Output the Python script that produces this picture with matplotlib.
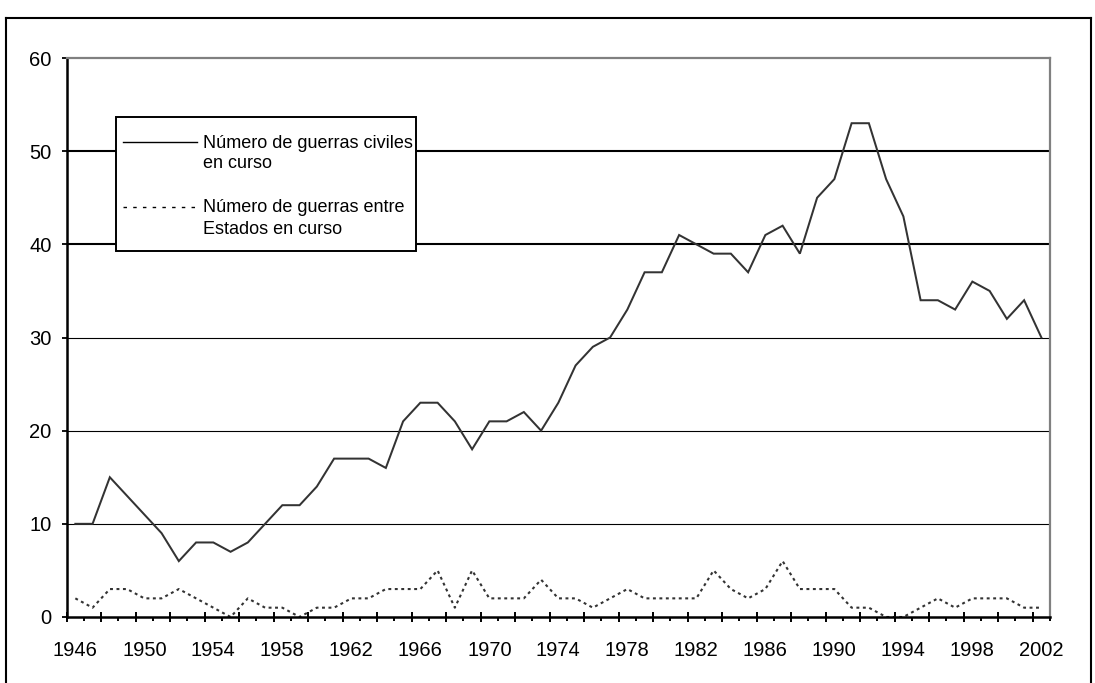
import matplotlib
matplotlib.use("Agg")
import matplotlib.pyplot as plt
from matplotlib.lines import Line2D
from matplotlib.patches import Rectangle
import numpy as np

years = list(range(1946, 2003))
civil_wars = [10, 10, 15, 13, 11, 9, 6, 8, 8, 7,
              8, 10, 12, 12, 14, 17, 17, 17, 16, 21,
              23, 23, 21, 18, 21, 21, 22, 20, 23, 27,
              29, 30, 33, 37, 37, 41, 40, 39, 39, 37,
              41, 42, 39, 45, 47, 53, 53, 47, 43, 34,
              34, 33, 36, 35, 32, 34, 30]
interstate_wars = [2, 1, 3, 3, 2, 2, 3, 2, 1, 0,
                   2, 1, 1, 0, 1, 1, 2, 2, 3, 3,
                   3, 5, 1, 5, 2, 2, 2, 4, 2, 2,
                   1, 2, 3, 2, 2, 2, 2, 5, 3, 2,
                   3, 6, 3, 3, 3, 1, 1, 0, 0, 1,
                   2, 1, 2, 2, 2, 1, 1]
y_ticks = [0, 10, 20, 30, 40, 50, 60]
label_civil = ["Número de guerras civiles", "en curso"]
label_inter = ["Número de guerras entre", "Estados en curso"]

W, H = 1095, 683
fig = plt.figure(figsize=(W / 100, H / 100), dpi=100)
plt.rcParams['font.family'] = ['Liberation Sans', 'DejaVu Sans']

def fx(px):
    return px / W

def fy(py):
    return 1 - py / H

ax_l, ax_r, ax_t, ax_b = 66.7, 1050, 58, 617
ax = fig.add_axes([fx(ax_l), fy(ax_b), fx(ax_r - ax_l), (ax_b - ax_t) / H])

x = np.arange(len(years))
ax.plot(x, civil_wars, color='#333333', lw=1.45, solid_joinstyle='miter', zorder=3)
ax.plot(x, interstate_wars, color='#333333', lw=1.5, linestyle=(0, (1.4, 1.7)), zorder=3)

ax.set_xlim(-0.5, len(years) - 0.5)
ax.set_ylim(0, 60)

# y axis
ax.set_yticks(y_ticks)
ax.set_yticklabels([str(v) for v in y_ticks])
ax.tick_params(axis='y', direction='out', length=3.8, width=1.3, pad=7,
               labelsize=14.5, colors='black')

# gridlines
for v in y_ticks[1:-1]:
    ax.axhline(v, color='black', lw=1.5 if v in (40, 50) else 0.8, zorder=1)

# x ticks: boundaries between categories
bounds = np.arange(len(years) + 1) - 0.5
ax.set_xticks(bounds[::2])
ax.set_xticks(bounds[1::2], minor=True)
ax.tick_params(axis='x', which='major', direction='inout', length=6.5, width=1.4,
               labelbottom=False)
ax.tick_params(axis='x', which='minor', direction='out', length=3.2, width=1.4,
               labelbottom=False)

# x labels centered on categories
sec = ax.secondary_xaxis('bottom')
sec.set_xticks(x[::4])
sec.set_xticklabels([str(years[i]) for i in x[::4]])
sec.tick_params(axis='x', length=0, pad=17, labelsize=14.5)
sec.spines['bottom'].set_visible(False)

for s in ['top', 'right']:
    ax.spines[s].set_color('#808080')
    ax.spines[s].set_linewidth(1.6)
for s in ['left', 'bottom']:
    ax.spines[s].set_color('black')
    ax.spines[s].set_linewidth(1.8)
ax.spines['bottom'].set_zorder(4)

# legend box
tf = fig.transFigure
box = Rectangle((fx(116), fy(251)), fx(416 - 116), (251 - 117) / H,
                transform=tf, facecolor='white', edgecolor='black', lw=1.4, zorder=10)
fig.add_artist(box)
fig.add_artist(Line2D([fx(123), fx(197)], [fy(142), fy(142)], transform=tf,
                      color='black', lw=1.0, zorder=11))
fig.add_artist(Line2D([fx(123), fx(197)], [fy(207), fy(207)], transform=tf,
                      color='black', lw=1.0, linestyle=(0, (2.5, 4.5)), zorder=11))
for i, t in enumerate(label_civil):
    fig.text(fx(203), fy(143 + 21 * i), t, fontsize=13, va='center', ha='left', zorder=12)
for i, t in enumerate(label_inter):
    fig.text(fx(203), fy(208 + 21 * i), t, fontsize=13, va='center', ha='left', zorder=12)

# outer frame
fig.add_artist(Line2D([fx(6), fx(1091)], [fy(18), fy(18)], transform=tf, color='black', lw=1.5))
fig.add_artist(Line2D([fx(6), fx(6)], [fy(18), fy(H + 5)], transform=tf, color='black', lw=1.5))
fig.add_artist(Line2D([fx(1091), fx(1091)], [fy(18), fy(H + 5)], transform=tf, color='black', lw=1.5))

fig.savefig('out.png', dpi=100)
